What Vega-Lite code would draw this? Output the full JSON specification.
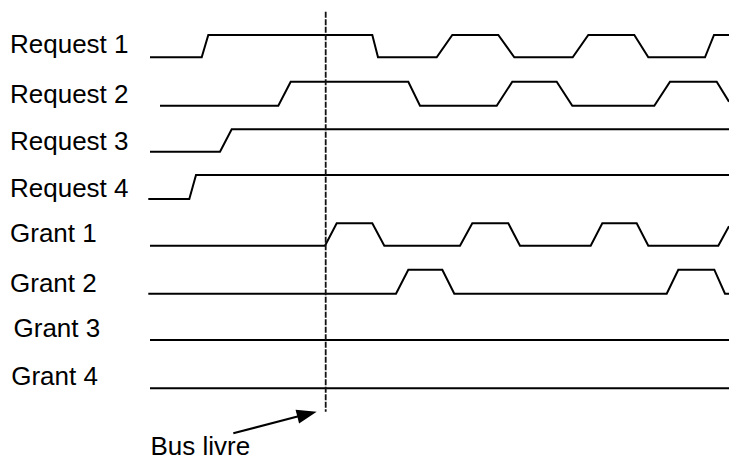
{
  "$schema": "https://vega.github.io/schema/vega-lite/v6.json",
  "width": 729,
  "height": 461,
  "autosize": {"type": "none"},
  "padding": 0,
  "background": "white",
  "config": {"view": {"stroke": null}},
  "encoding": {
    "x": {"field": "t", "type": "quantitative", "scale": {"domain": [-15, 57.9], "nice": false, "zero": false}, "axis": null},
    "y": {"field": "y", "type": "quantitative", "scale": {"domain": [0, 46.1], "nice": false, "zero": false, "reverse": true}, "axis": null}
  },
  "layer": [
    {
      "data": {"values": [
        {"signal": "Request 1", "i": 0, "t": 0, "y": 5.73},
        {"signal": "Request 1", "i": 1, "t": 5.17, "y": 5.73},
        {"signal": "Request 1", "i": 2, "t": 5.83, "y": 3.5},
        {"signal": "Request 1", "i": 3, "t": 22.23, "y": 3.5},
        {"signal": "Request 1", "i": 4, "t": 22.8, "y": 5.73},
        {"signal": "Request 1", "i": 5, "t": 28.67, "y": 5.73},
        {"signal": "Request 1", "i": 6, "t": 30.23, "y": 3.5},
        {"signal": "Request 1", "i": 7, "t": 34.83, "y": 3.5},
        {"signal": "Request 1", "i": 8, "t": 36.43, "y": 5.73},
        {"signal": "Request 1", "i": 9, "t": 42.27, "y": 5.73},
        {"signal": "Request 1", "i": 10, "t": 43.83, "y": 3.5},
        {"signal": "Request 1", "i": 11, "t": 48.43, "y": 3.5},
        {"signal": "Request 1", "i": 12, "t": 49.83, "y": 5.73},
        {"signal": "Request 1", "i": 13, "t": 55.5, "y": 5.73},
        {"signal": "Request 1", "i": 14, "t": 56.4, "y": 3.5},
        {"signal": "Request 1", "i": 15, "t": 57.9, "y": 3.5},
        {"signal": "Request 2", "i": 0, "t": 1.0, "y": 10.57},
        {"signal": "Request 2", "i": 1, "t": 12.83, "y": 10.57},
        {"signal": "Request 2", "i": 2, "t": 14.07, "y": 8.17},
        {"signal": "Request 2", "i": 3, "t": 25.83, "y": 8.17},
        {"signal": "Request 2", "i": 4, "t": 27.0, "y": 10.57},
        {"signal": "Request 2", "i": 5, "t": 34.67, "y": 10.57},
        {"signal": "Request 2", "i": 6, "t": 36.23, "y": 8.17},
        {"signal": "Request 2", "i": 7, "t": 40.67, "y": 8.17},
        {"signal": "Request 2", "i": 8, "t": 42.23, "y": 10.57},
        {"signal": "Request 2", "i": 9, "t": 50.43, "y": 10.57},
        {"signal": "Request 2", "i": 10, "t": 52.0, "y": 8.17},
        {"signal": "Request 2", "i": 11, "t": 56.67, "y": 8.17},
        {"signal": "Request 2", "i": 12, "t": 57.9, "y": 10.17},
        {"signal": "Request 3", "i": 0, "t": 0, "y": 15.17},
        {"signal": "Request 3", "i": 1, "t": 7.0, "y": 15.17},
        {"signal": "Request 3", "i": 2, "t": 8.17, "y": 12.93},
        {"signal": "Request 3", "i": 3, "t": 57.9, "y": 12.93},
        {"signal": "Request 4", "i": 0, "t": -0.17, "y": 19.9},
        {"signal": "Request 4", "i": 1, "t": 3.93, "y": 19.9},
        {"signal": "Request 4", "i": 2, "t": 4.6, "y": 17.5},
        {"signal": "Request 4", "i": 3, "t": 57.9, "y": 17.5},
        {"signal": "Grant 1", "i": 0, "t": 0, "y": 24.57},
        {"signal": "Grant 1", "i": 1, "t": 17.5, "y": 24.57},
        {"signal": "Grant 1", "i": 2, "t": 18.67, "y": 22.33},
        {"signal": "Grant 1", "i": 3, "t": 22.23, "y": 22.33},
        {"signal": "Grant 1", "i": 4, "t": 23.43, "y": 24.57},
        {"signal": "Grant 1", "i": 5, "t": 31.0, "y": 24.57},
        {"signal": "Grant 1", "i": 6, "t": 32.23, "y": 22.33},
        {"signal": "Grant 1", "i": 7, "t": 35.83, "y": 22.33},
        {"signal": "Grant 1", "i": 8, "t": 37.0, "y": 24.57},
        {"signal": "Grant 1", "i": 9, "t": 44.07, "y": 24.57},
        {"signal": "Grant 1", "i": 10, "t": 45.23, "y": 22.33},
        {"signal": "Grant 1", "i": 11, "t": 48.67, "y": 22.33},
        {"signal": "Grant 1", "i": 12, "t": 49.83, "y": 24.57},
        {"signal": "Grant 1", "i": 13, "t": 56.83, "y": 24.57},
        {"signal": "Grant 1", "i": 14, "t": 57.9, "y": 22.62},
        {"signal": "Grant 2", "i": 0, "t": -0.17, "y": 29.37},
        {"signal": "Grant 2", "i": 1, "t": 24.6, "y": 29.37},
        {"signal": "Grant 2", "i": 2, "t": 25.83, "y": 26.97},
        {"signal": "Grant 2", "i": 3, "t": 29.23, "y": 26.97},
        {"signal": "Grant 2", "i": 4, "t": 30.43, "y": 29.37},
        {"signal": "Grant 2", "i": 5, "t": 51.67, "y": 29.37},
        {"signal": "Grant 2", "i": 6, "t": 52.83, "y": 26.97},
        {"signal": "Grant 2", "i": 7, "t": 56.43, "y": 26.97},
        {"signal": "Grant 2", "i": 8, "t": 57.5, "y": 29.37},
        {"signal": "Grant 2", "i": 9, "t": 57.9, "y": 29.37},
        {"signal": "Grant 3", "i": 0, "t": 0, "y": 34.0},
        {"signal": "Grant 3", "i": 1, "t": 57.9, "y": 34.0},
        {"signal": "Grant 4", "i": 0, "t": 0, "y": 38.83},
        {"signal": "Grant 4", "i": 1, "t": 57.9, "y": 38.83}
      ]},
      "mark": {"type": "line", "color": "black", "strokeWidth": 2, "strokeJoin": "miter", "clip": true},
      "encoding": {
        "detail": {"field": "signal", "type": "nominal"},
        "order": {"field": "i", "type": "quantitative"}
      }
    },
    {
      "data": {"values": [
        {"label": "Request 1", "t": -14.0, "y": 5.33},
        {"label": "Request 2", "t": -14.0, "y": 10.3},
        {"label": "Request 3", "t": -14.0, "y": 15.0},
        {"label": "Request 4", "t": -14.0, "y": 19.67},
        {"label": "Grant 1", "t": -14.0, "y": 24.17},
        {"label": "Grant 2", "t": -14.0, "y": 29.17},
        {"label": "Grant 3", "t": -13.65, "y": 33.67},
        {"label": "Grant 4", "t": -13.88, "y": 38.5},
        {"label": "Bus livre", "t": 0.05, "y": 45.5}
      ]},
      "mark": {"type": "text", "align": "left", "baseline": "alphabetic", "font": "Liberation Sans", "fontSize": 26, "color": "black"},
      "encoding": {"text": {"field": "label", "type": "nominal"}}
    },
    {
      "data": {"values": [{"t": 17.57, "y": 1.17, "y2": 41.17}]},
      "mark": {"type": "rule", "color": "#111", "strokeWidth": 1.8, "strokeDash": [6, 1.5]},
      "encoding": {"y2": {"field": "y2"}}
    },
    {
      "data": {"values": [
        {"i": 0, "t": 8.33, "y": 43.33},
        {"i": 1, "t": 16.0, "y": 41.33}
      ]},
      "mark": {"type": "line", "color": "black", "strokeWidth": 2},
      "encoding": {"order": {"field": "i", "type": "quantitative"}}
    },
    {
      "data": {"values": [{"t": 16.67, "y": 41.17}]},
      "mark": {"type": "point", "shape": "M0,0L-2,-0.7L-2,0.7Z", "size": 400, "angle": 345.7, "filled": true, "color": "black", "opacity": 1}
    }
  ]
}
